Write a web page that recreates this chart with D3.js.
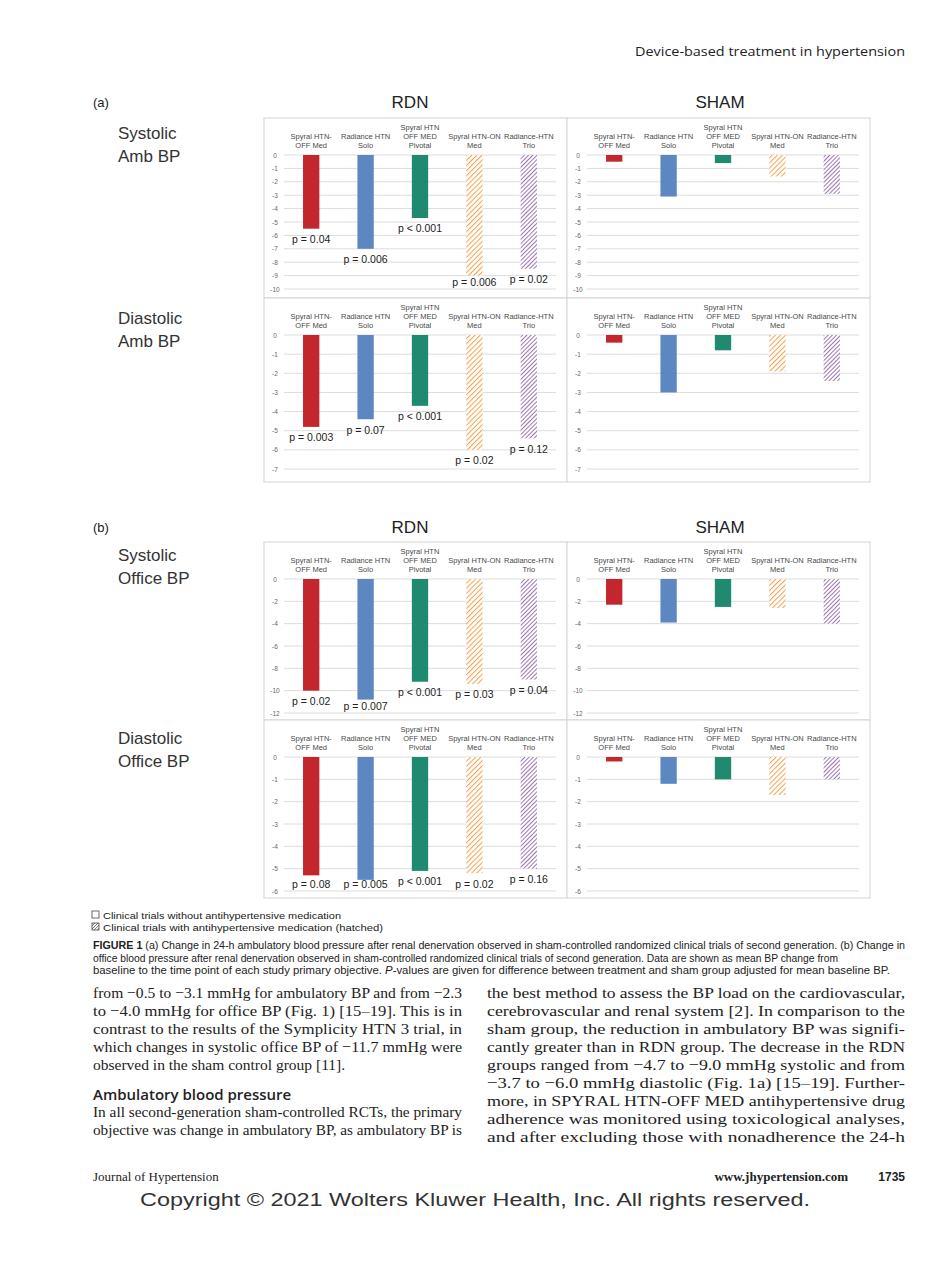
<!DOCTYPE html>
<html>
<head>
<meta charset="utf-8">
<script src="https://cdn.jsdelivr.net/npm/d3@7"></script>
<style>
  body { margin: 0; background: #fff; }
  svg { display: block; }
</style>
</head>
<body>
<div id="chart"></div>
<script>
// Trials (x categories), same order in every panel
const trials = [
    ["Spyral HTN-", "OFF Med"],
    ["Radiance HTN", "Solo"],
    ["Spyral HTN", "OFF MED", "Pivotal"],
    ["Spyral HTN-ON", "Med"],
    ["Radiance-HTN", "Trio"]
];
const hatched = [false, false, false, true, true];
const barColors = ["#c1272d", "#5d87c1", "#1f8a70", "#f5a04a", "#8c5ba6"];

// Mean BP change (mmHg)
const rdnSysAmb = [-5.5, -7.0, -4.7, -9.0, -8.5];
const shamSysAmb = [-0.5, -3.1, -0.6, -1.6, -2.9];
const rdnDiaAmb = [-4.8, -4.4, -3.7, -6.0, -5.4];
const shamDiaAmb = [-0.4, -3.0, -0.8, -1.9, -2.4];
const rdnSysOffice = [-10.0, -10.8, -9.2, -9.4, -9.0];
const shamSysOffice = [-2.3, -3.9, -2.5, -2.6, -4.0];
const rdnDiaOffice = [-5.3, -5.5, -5.1, -5.2, -5.0];
const shamDiaOffice = [-0.2, -1.2, -1.0, -1.7, -1.0];

// p-values (RDN vs sham)
const pSysAmb = ["p = 0.04", "p = 0.006", "p < 0.001", "p = 0.006", "p = 0.02"];
const pDiaAmb = ["p = 0.003", "p = 0.07", "p < 0.001", "p = 0.02", "p = 0.12"];
const pSysOffice = ["p = 0.02", "p = 0.007", "p < 0.001", "p = 0.03", "p = 0.04"];
const pDiaOffice = ["p = 0.08", "p = 0.005", "p < 0.001", "p = 0.02", "p = 0.16"];

// Tick labels
const ticksSysAmb = [0, -1, -2, -3, -4, -5, -6, -7, -8, -9, -10];
const ticksDiaAmb = [0, -1, -2, -3, -4, -5, -6, -7];
const ticksSysOffice = [0, -2, -4, -6, -8, -10, -12];
const ticksDiaOffice = [0, -1, -2, -3, -4, -5, -6];

const rowLabels = [["Systolic", "Amb BP"], ["Diastolic", "Amb BP"], ["Systolic", "Office BP"], ["Diastolic", "Office BP"]];

const captionLines = [
    "(a) Change in 24-h ambulatory blood pressure after renal denervation observed in sham-controlled randomized clinical trials of second generation. (b) Change in",
    "office blood pressure after renal denervation observed in sham-controlled randomized clinical trials of second generation. Data are shown as mean BP change from",
    "baseline to the time point of each study primary objective. P-values are given for difference between treatment and sham group adjusted for mean baseline BP."
];
const leftCol = [
    "from \u22120.5 to \u22123.1 mmHg for ambulatory BP and from \u22122.3",
    "to \u22124.0 mmHg for office BP (Fig. 1) [15\u201319]. This is in",
    "contrast to the results of the Symplicity HTN 3 trial, in",
    "which changes in systolic office BP of \u221211.7 mmHg were",
    "observed in the sham control group [11]."
];
const leftCol2 = [
    "In all second-generation sham-controlled RCTs, the primary",
    "objective was change in ambulatory BP, as ambulatory BP is"
];
const rightCol = [
    "the best method to assess the BP load on the cardiovascular,",
    "cerebrovascular and renal system [2]. In comparison to the",
    "sham group, the reduction in ambulatory BP was signifi-",
    "cantly greater than in RDN group. The decrease in the RDN",
    "groups ranged from \u22124.7 to \u22129.0 mmHg systolic and from",
    "\u22123.7 to \u22126.0 mmHg diastolic (Fig. 1a) [15\u201319]. Further-",
    "more, in SPYRAL HTN-OFF MED antihypertensive drug",
    "adherence was monitored using toxicological analyses,",
    "and after excluding those with nonadherence the 24-h"
];

window.addEventListener("DOMContentLoaded", function() {
    const width = 950, height = 1265;
    const svg = d3.select("#chart").append("svg")
        .attr("width", width).attr("height", height)
        .style("font-family", "'Liberation Sans', Arial, sans-serif");

    svg.append("rect").attr("width", width).attr("height", height).attr("fill", "#fff");

    // hatch patterns
    const defs = svg.append("defs");
    function hatch(id, color, size, sw) {
        const p = defs.append("pattern").attr("id", id)
            .attr("patternUnits", "userSpaceOnUse")
            .attr("width", size).attr("height", size)
            .attr("patternTransform", "rotate(45)");
        p.append("rect").attr("width", size).attr("height", size).attr("fill", "#fff");
        p.append("line").attr("x1", 0).attr("y1", 0).attr("x2", 0).attr("y2", size)
            .attr("stroke", color).attr("stroke-width", sw);
    }
    hatch("hatch3", barColors[3], 3.6, 2);
    hatch("hatch4", barColors[4], 3.0, 1.7);
    hatch("hatchLegend", "#333", 2.2, 1);

    // running header
    svg.append("text").attr("x", 905).attr("y", 56).attr("text-anchor", "end")
        .style("font-family", "'Open Sans', sans-serif").style("font-size", "13.5px").attr("fill", "#222")
        .attr("textLength", 270).attr("lengthAdjust", "spacingAndGlyphs")
        .text("Device-based treatment in hypertension");

    // one row of two charts (RDN | SHAM)
    const frameW = 303, frameXs = [264, 567];
    const rows = [
        { top: 118, h: 180, rdn: rdnSysAmb, sham: shamSysAmb, p: pSysAmb, min: -10, ticks: ticksSysAmb },
        { top: 298, h: 184, rdn: rdnDiaAmb, sham: shamDiaAmb, p: pDiaAmb, min: -7, ticks: ticksDiaAmb },
        { top: 542, h: 178, rdn: rdnSysOffice, sham: shamSysOffice, p: pSysOffice, min: -12, ticks: ticksSysOffice },
        { top: 720, h: 178, rdn: rdnDiaOffice, sham: shamDiaOffice, p: pDiaOffice, min: -6, ticks: ticksDiaOffice }
    ];

    function drawChart(x0, row, values, pvals) {
        const g = svg.append("g");
        g.append("rect").attr("x", x0).attr("y", row.top).attr("width", frameW).attr("height", row.h)
            .attr("fill", "#fff").attr("stroke", "#d4d4d4").attr("stroke-width", 1);

        const x = d3.scaleBand().domain(d3.range(trials.length))
            .range([x0 + 20, x0 + 292]).padding(0);
        const y = d3.scaleLinear().domain([0, row.min]).range([row.top + 37, row.top + 171]);
        const barW = x.bandwidth() * 0.3;

        // gridlines
        g.selectAll(".grid").data(row.ticks).enter().append("line")
            .attr("x1", x0 + 20).attr("x2", x0 + 292)
            .attr("y1", d => y(d)).attr("y2", d => y(d))
            .attr("stroke", "#dcdcdc").attr("stroke-width", 1);

        // tick labels
        g.selectAll(".tick").data(row.ticks).enter().append("text")
            .attr("x", x0 + 11).attr("y", d => y(d) + 2.5)
            .attr("text-anchor", "middle").style("font-size", "6.5px").attr("fill", "#666")
            .text(d => d);

        // bars
        g.selectAll(".bar").data(values).enter().append("rect")
            .attr("x", (d, i) => x(i) + x.bandwidth() / 2 - barW / 2)
            .attr("y", y(0))
            .attr("width", barW)
            .attr("height", d => y(d) - y(0))
            .attr("fill", (d, i) => hatched[i] ? `url(#hatch${i})` : barColors[i]);

        // category labels
        trials.forEach((lines, i) => {
            const t = g.append("text").attr("text-anchor", "middle")
                .style("font-size", "7.5px").attr("fill", "#4a4a4a");
            lines.forEach((ln, j) => {
                t.append("tspan").attr("x", x(i) + x.bandwidth() / 2)
                    .attr("y", y(0) - 7 - (lines.length - 1 - j) * 9)
                    .text(ln);
            });
        });

        // p-values
        if (pvals) {
            g.selectAll(".pv").data(values).enter().append("text")
                .attr("x", (d, i) => x(i) + x.bandwidth() / 2)
                .attr("y", d => Math.min(y(d) + 11, y(row.min) - 7) + 3.5)
                .attr("text-anchor", "middle").style("font-size", "10.5px").attr("fill", "#222")
                .text((d, i) => pvals[i]);
        }
    }

    rows.forEach(row => {
        drawChart(frameXs[0], row, row.rdn, row.p);
        drawChart(frameXs[1], row, row.sham, null);
    });

    // panel headings
    [[102, "(a)"], [527, "(b)"]].forEach(([cy, lab]) => {
        svg.append("text").attr("x", 93).attr("y", cy + 5).style("font-size", "13px").attr("fill", "#222").text(lab);
        svg.append("text").attr("x", 410).attr("y", cy + 6).attr("text-anchor", "middle")
            .style("font-size", "17px").attr("fill", "#222").text("RDN");
        svg.append("text").attr("x", 720).attr("y", cy + 6).attr("text-anchor", "middle")
            .style("font-size", "17px").attr("fill", "#222").text("SHAM");
    });

    // row labels
    const rowLabelY = [139, 324, 561, 744];
    rowLabels.forEach((lines, i) => {
        lines.forEach((ln, j) => {
            svg.append("text").attr("x", 118).attr("y", rowLabelY[i] + j * 22.5)
                .style("font-size", "17px").attr("fill", "#333").text(ln);
        });
    });

    // legend
    svg.append("rect").attr("x", 92).attr("y", 911).attr("width", 7).attr("height", 7)
        .attr("fill", "#fff").attr("stroke", "#444").attr("stroke-width", 0.8);
    svg.append("rect").attr("x", 92).attr("y", 923).attr("width", 7).attr("height", 7)
        .attr("fill", "url(#hatchLegend)").attr("stroke", "#444").attr("stroke-width", 0.8);
    svg.append("text").attr("x", 103).attr("y", 918.5).style("font-size", "9.5px").attr("fill", "#222")
        .attr("textLength", 238).attr("lengthAdjust", "spacingAndGlyphs")
        .text("Clinical trials without antihypertensive medication");
    svg.append("text").attr("x", 103).attr("y", 930.5).style("font-size", "9.5px").attr("fill", "#222")
        .attr("textLength", 280).attr("lengthAdjust", "spacingAndGlyphs")
        .text("Clinical trials with antihypertensive medication (hatched)");

    // caption
    const capW = [812, 745, 797];
    captionLines.forEach((ln, i) => {
        const t = svg.append("text").attr("x", 93).attr("y", 949 + i * 12.5)
            .style("font-size", "10px").attr("fill", "#222")
            .attr("textLength", capW[i]).attr("lengthAdjust", "spacingAndGlyphs");
        if (i === 0) t.append("tspan").style("font-weight", "bold").text("FIGURE 1 ");
        if (i === 2) {
            t.append("tspan").text("baseline to the time point of each study primary objective. ");
            t.append("tspan").style("font-style", "italic").text("P");
            t.append("tspan").text("-values are given for difference between treatment and sham group adjusted for mean baseline BP.");
        } else {
            t.append("tspan").text(ln);
        }
    });

    // body text (justified columns)
    const serif = "'Liberation Serif', 'Times New Roman', serif";
    function column(lines, x, y0, w, justifyLast) {
        lines.forEach((ln, i) => {
            const t = svg.append("text").attr("x", x).attr("y", y0 + i * 18)
                .style("font-family", serif).style("font-size", "15.5px").attr("fill", "#222")
                .text(ln);
            if (i < lines.length - 1 || justifyLast) {
                t.attr("textLength", w).attr("lengthAdjust", "spacingAndGlyphs");
            }
        });
    }
    column(leftCol, 93, 998, 369, false);
    svg.append("text").attr("x", 93).attr("y", 1100)
        .style("font-family", "'Open Sans', sans-serif").style("font-weight", "600")
        .style("font-size", "15px").attr("fill", "#222").text("Ambulatory blood pressure");
    column(leftCol2, 93, 1117, 369, true);
    column(rightCol, 487, 998, 418, true);

    // footer
    svg.append("text").attr("x", 93).attr("y", 1181).style("font-family", serif)
        .style("font-size", "13px").attr("fill", "#222").text("Journal of Hypertension");
    svg.append("text").attr("x", 848).attr("y", 1181).attr("text-anchor", "end").style("font-family", serif)
        .style("font-weight", "bold").style("font-size", "13px").attr("fill", "#222").text("www.jhypertension.com");
    svg.append("text").attr("x", 905).attr("y", 1181).attr("text-anchor", "end")
        .style("font-weight", "bold").style("font-size", "12px").attr("fill", "#222").text("1735");
    svg.append("text").attr("x", 475).attr("y", 1206).attr("text-anchor", "middle")
        .style("font-size", "18px").attr("fill", "#333")
        .attr("textLength", 670).attr("lengthAdjust", "spacingAndGlyphs")
        .text("Copyright \u00a9 2021 Wolters Kluwer Health, Inc. All rights reserved.");
});
</script>
</body>
</html>
